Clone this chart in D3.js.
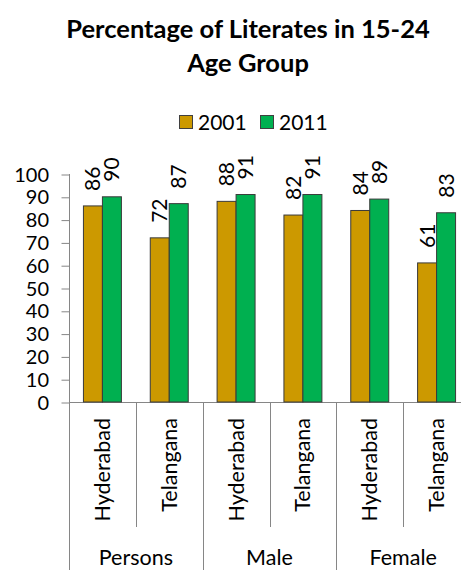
<!DOCTYPE html>
<html><head><meta charset="utf-8">
<script src="https://cdn.jsdelivr.net/npm/d3@7"></script>
<style>body{margin:0;background:#fff}svg{display:block}text{font-family:Lato,"Open Sans",sans-serif}</style>
</head><body><div id="chart"></div>
<script>
const groups = ["Persons","Male","Female"];
const places = ["Hyderabad","Telangana"];
const seriesNames = ["2001","2011"];
const values2001 = [86,72,88,82,84,61];
const values2011 = [90,87,91,91,89,83];
const yTicks = [0,10,20,30,40,50,60,70,80,90,100];
const colors = ["#CC9900","#00B050"];

const W=461,H=570;
const svg=d3.select("#chart").append("svg").attr("width",W).attr("height",H);
const cats=[];
groups.forEach(g=>places.forEach(p=>cats.push(g+"|"+p)));
const data=cats.map((c,i)=>({key:c,place:c.split("|")[1],vals:[values2001[i],values2011[i]]}));

const x0=d3.scaleBand().domain(cats).range([69,470]).padding(0);
const x1=d3.scaleBand().domain(seriesNames).range([0,x0.bandwidth()]).paddingInner(0).paddingOuter(0.76);
const y=d3.scaleLinear().domain([0,100]).range([402,174]);

// title
const t=svg.append("text").attr("text-anchor","middle").attr("font-weight","bold").attr("font-size",25.5).attr("fill","#000");
t.append("tspan").attr("x",248).attr("y",38).text("Percentage of Literates in 15-24");
t.append("tspan").attr("x",248).attr("y",72).text("Age Group");

// legend
const leg=svg.append("g");
const legX=[179,260];
seriesNames.forEach((s,i)=>{
  leg.append("rect").attr("x",legX[i]+0.5).attr("y",115.5).attr("width",13).attr("height",13).attr("fill",colors[i]).attr("stroke","#404040").attr("stroke-width",1);
  leg.append("text").attr("x",legX[i]+19).attr("y",130).attr("font-size",21).attr("fill","#000").text(s);
});

// y axis
const yAxis=d3.axisLeft(y).tickValues(yTicks).tickSize(8).tickPadding(12).tickSizeOuter(0);
const ga=svg.append("g").attr("transform","translate(69,0)").call(yAxis);
ga.selectAll("path,line").attr("stroke","#868686");
ga.select(".domain").attr("d","M0.5,"+y(100)+"V"+y(0));
ga.selectAll("line").attr("transform","translate(0.5,0.5)");
ga.selectAll("text").attr("font-size",20).attr("fill","#000").attr("font-family","Lato,sans-serif").attr("dy","0.35em");

// baseline
svg.append("line").attr("x1",69).attr("x2",470).attr("y1",y(0)+0.5).attr("y2",y(0)+0.5).attr("stroke","#868686");

// separators
cats.forEach((c,i)=>{
  const xx=Math.round(x0(c))+0.5;
  const isGroup=i%2===0;
  svg.append("line").attr("x1",xx).attr("x2",xx).attr("y1",y(0)).attr("y2",isGroup?570:527).attr("stroke","#868686");
});

// bars
const g=svg.append("g");
data.forEach(d=>{
  seriesNames.forEach((s,j)=>{
    const bx=x0(d.key)+x1(s);
    g.append("rect").attr("x",bx).attr("y",y(d.vals[j])).attr("width",x1.bandwidth()).attr("height",y(0)-y(d.vals[j]))
      .attr("fill",colors[j]).attr("stroke","#3a3a3a").attr("stroke-width",1);
    const cx=bx+x1.bandwidth()/2, ty=y(d.vals[j])-15;
    g.append("text").attr("transform",`translate(${cx+7.5},${ty}) rotate(-90)`).attr("font-size",21).attr("fill","#000").text(d.vals[j]);
  });
  const cx=x0(d.key)+x0.bandwidth()/2;
  svg.append("text").attr("transform",`translate(${cx+7.5},418) rotate(-90)`).attr("text-anchor","end").attr("font-size",21.5).attr("fill","#000").text(d.place);
});

// group labels
groups.forEach((gname,i)=>{
  const cx=x0(cats[i*2])+x0.bandwidth();
  svg.append("text").attr("x",cx).attr("y",565).attr("text-anchor","middle").attr("font-size",21.5).attr("fill","#000").text(gname);
});
</script></body></html>
